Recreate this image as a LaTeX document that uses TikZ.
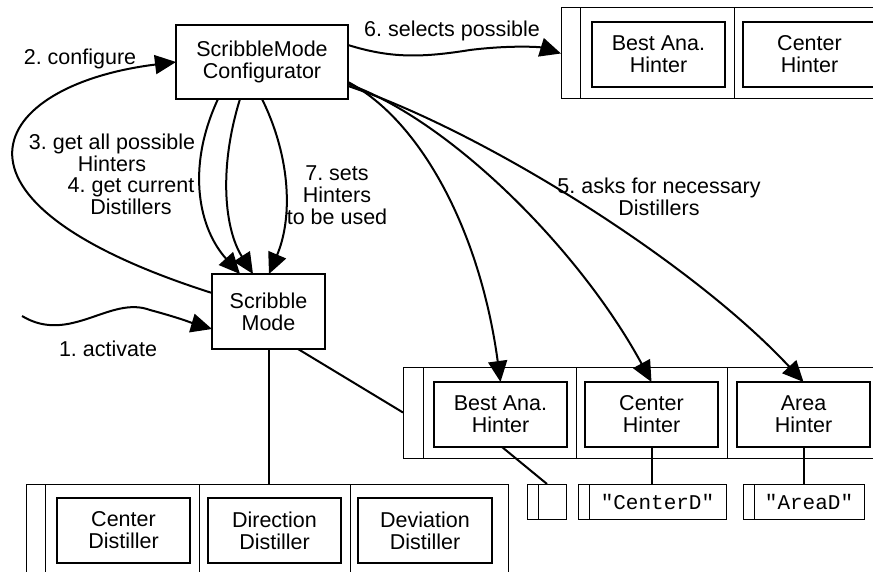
\documentclass[tikz,border=0pt]{standalone}
\usepackage{fontspec}
\setmainfont{Liberation Sans}
\setmonofont{Liberation Mono}
\usetikzlibrary{arrows.meta,calc}
\frenchspacing
\newcommand\lbl{\fontsize{21.5}{22}\selectfont\frenchspacing}
\newcommand\codelbl{\ttfamily\fontsize{21}{22}\selectfont}
\begin{document}
\begin{tikzpicture}[x=1pt,y=-1pt,
  obj/.style={draw, line width=2.5pt, align=center, inner sep=0pt, outer sep=0pt, font=\lbl},
  frame/.style={draw, line width=1pt, inner sep=0pt, outer sep=0pt},
  link/.style={line width=2pt},
  msg/.style={line width=2pt, -{Triangle[length=21pt,width=19pt]}},
  note/.style={align=center, inner sep=0pt, font=\lbl},
  slot/.style={draw, line width=1pt, inner sep=0pt, outer sep=0pt, font=\codelbl}]
\useasboundingbox (0,0) rectangle (873,572);

% main objects
\node[obj, minimum width=172pt, minimum height=74pt] (cfg) at (262,62) {ScribbleMode\\Configurator};
\node[obj, minimum width=113pt, minimum height=75pt] (scr) at (268.5,311.5) {Scribble\\Mode};

% selected hinters (top right array)
\node[frame, minimum width=329pt, minimum height=91pt] (sel) at (725.5,53.5) {};
\draw[frame] (580,8) -- (580,99) (734,8) -- (734,99);
\node[obj, minimum width=133pt, minimum height=65pt] (s1) at (658.5,54.5) {Best Ana.\\Hinter};
\node[obj, minimum width=133pt, minimum height=65pt] (s2) at (809.5,54.5) {Center\\Hinter};

% all hinters (right array)
\node[frame, minimum width=487pt, minimum height=91pt] (harr) at (646.5,412.5) {};
\draw[frame] (423,367) -- (423,458) (576,367) -- (576,458) (727,367) -- (727,458) (878,367) -- (878,458);
\node[obj, minimum width=133pt, minimum height=65pt] (h1) at (500.5,414.5) {Best Ana.\\Hinter};
\node[obj, minimum width=133pt, minimum height=65pt] (h2) at (651.5,414.5) {Center\\Hinter};
\node[obj, minimum width=133pt, minimum height=65pt] (h3) at (803.5,414.5) {Area\\Hinter};

% distiller name slots
\node[slot, minimum width=39pt, minimum height=35pt] (d1) at (546.5,501.5) {};
\draw[frame] (538,484) -- (538,519);
\node[slot, minimum width=148pt, minimum height=35pt] (d2) at (652,501.5) {};
\draw[frame] (589,484) -- (589,519);
\node[font=\codelbl, inner sep=0pt] (d2t) at (657.5,502) {"CenterD"};
\node[slot, minimum width=121pt, minimum height=35pt] (d3) at (803.5,501.5) {};
\draw[frame] (754,484) -- (754,519);
\node[font=\codelbl, inner sep=0pt] (d3t) at (809,502) {"AreaD"};

% distillers (bottom array)
\node[frame, minimum width=482pt, minimum height=116pt] (darr) at (267,542) {};
\draw[frame] (45,484) -- (45,600) (199,484) -- (199,600) (350,484) -- (350,600);
\node[obj, minimum width=133pt, minimum height=65pt] (x1) at (123.5,530.5) {Center\\Distiller};
\node[obj, minimum width=133pt, minimum height=65pt] (x2) at (274.5,530.5) {Direction\\Distiller};
\node[obj, minimum width=134pt, minimum height=65pt] (x3) at (425,530.5) {Deviation\\Distiller};

% structural links
\draw[link] (scr.south) -- (scr.south |- darr.north);
\draw[link] ($(scr.south east)+(-27,0)$) -- (harr.west);
\draw[link] ($(h1.south)+(1.5,0)$) -- ($(d1.north)+(0.5,0)$);
\draw[link] (h2.south) -- (h2.south |- d2.north);
\draw[link] (h3.south) -- (h3.south |- d3.north);

% messages
\coordinate (caller) at (22,316);
\draw[msg] (caller) .. controls (70,345) and (110,295) .. (150,310)
  .. controls (180,318) and (195,324) .. ($(scr.west)+(0,17.5)$);
\node[note] (m1) at (108,349) {1. activate};

\draw[msg] ($(scr.west)+(0,-18.5)$) .. controls (-80,200) and (-10,85) .. (cfg.west);
\node[note] (m2) at (80,59) {2. configure};

\draw[msg] ($(cfg.south)+(-44,0)$) .. controls (185,170) and (200,230) .. ($(scr.north)+(-28.5,0)$);
\draw[msg] ($(cfg.south)+(-22,0)$) .. controls (218,170) and (225,230) .. ($(scr.north)+(-15.5,0)$);
\draw[msg] (cfg.south) .. controls (292,160) and (292,220) .. ($(scr.north)+(0.5,0)$);
\node[note] (m3) at (112,152.5) {3. get all possible\\Hinters};
\node[note] (m4) at (131,196) {4. get current\\Distillers};
\node[note] (m7) at (337,195) {7. sets\\Hinters\\to be used};

\draw[msg] ($(cfg.east)+(0,-17)$) .. controls (390,58) and (420,58) .. (470,50)
  .. controls (510,45) and (540,47) .. (sel.west);
\node[note] (m6) at (452,31) {6. selects possible};

\draw[msg] ($(cfg.east)+(0,20)$) .. controls (420,120) and (480,230) .. (h1.north);
\draw[msg] ($(cfg.east)+(0,22)$) .. controls (450,120) and (580,250) .. (h2.north);
\draw[msg] ($(cfg.east)+(0,24)$) .. controls (480,130) and (690,260) .. (h3.north);
\node[note] (m5) at (659,197) {5. asks for necessary\\Distillers};
\end{tikzpicture}
\end{document}
